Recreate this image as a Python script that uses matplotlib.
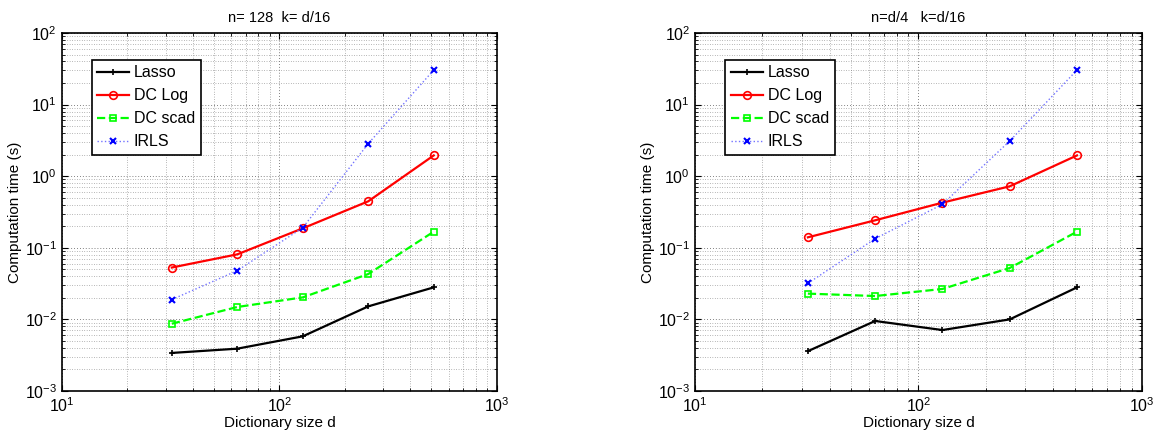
import numpy as np
import matplotlib
matplotlib.use("Agg")
import matplotlib.pyplot as plt
from matplotlib.ticker import LogLocator, NullFormatter

d = [32, 64, 128, 256, 512]

# left panel: n = 128, k = d/16
lasso_a = [0.0034, 0.0039, 0.0058, 0.0152, 0.028]
dclog_a = [0.053, 0.081, 0.187, 0.446, 1.95]
dcscad_a = [0.0087, 0.0149, 0.0203, 0.043, 0.168]
irls_a = [0.0189, 0.048, 0.191, 2.85, 30.4]

# right panel: n = d/4, k = d/16
lasso_b = [0.0036, 0.0095, 0.0071, 0.0100, 0.028]
dclog_b = [0.140, 0.242, 0.427, 0.722, 1.95]
dcscad_b = [0.0229, 0.0212, 0.0266, 0.0522, 0.168]
irls_b = [0.0319, 0.134, 0.405, 3.1, 30.4]

titles = ["n= 128  k= d/16", "n=d/4   k=d/16"]
labels = ["Lasso", "DC Log", "DC scad", "IRLS"]

plt.rcParams['font.family'] = ['Liberation Sans', 'DejaVu Sans']
plt.rcParams['mathtext.fontset'] = 'custom'
plt.rcParams['mathtext.rm'] = 'Liberation Sans'

fig = plt.figure(figsize=(11.71, 4.41), dpi=100)
ax1 = fig.add_axes([0.0529, 0.1134, 0.3715, 0.8118])
ax2 = fig.add_axes([0.5935, 0.1134, 0.3817, 0.8118])

panels = [(ax1, lasso_a, dclog_a, dcscad_a, irls_a),
          (ax2, lasso_b, dclog_b, dcscad_b, irls_b)]

for i, (ax, la, lg, sc, ir) in enumerate(panels):
    ax.plot(d, la, color='k', linestyle='-', linewidth=1.6, marker='+',
            markersize=5, markeredgewidth=1.2, label=labels[0])
    ax.plot(d, lg, color='r', linestyle='-', linewidth=1.6, marker='o',
            markersize=5.5, markerfacecolor='none', markeredgewidth=1.2, label=labels[1])
    ax.plot(d, sc, color=(0, 1, 0), linestyle='--', linewidth=1.6, marker='s',
            markersize=5, markerfacecolor='none', markeredgewidth=1.2, label=labels[2])
    ax.plot(d, ir, color=(0.45, 0.45, 1.0), linestyle=':', linewidth=1.0, marker='x',
            markersize=4, markeredgecolor='b', markeredgewidth=1.5, label=labels[3])

    ax.set_xscale('log')
    ax.set_yscale('log')
    ax.set_xlim(10, 1000)
    ax.set_ylim(1e-3, 1e2)
    ax.xaxis.set_major_locator(LogLocator(base=10, numticks=10))
    ax.yaxis.set_major_locator(LogLocator(base=10, numticks=10))
    ax.xaxis.set_minor_locator(LogLocator(base=10, subs=np.arange(2, 10), numticks=20))
    ax.yaxis.set_minor_locator(LogLocator(base=10, subs=np.arange(2, 10), numticks=20))
    ax.xaxis.set_minor_formatter(NullFormatter())
    ax.yaxis.set_minor_formatter(NullFormatter())

    ax.grid(True, which='major', linestyle=(0, (1, 2.5)), color='0.35', linewidth=0.6)
    ax.grid(True, which='minor', linestyle=(0, (1, 2.5)), color='0.45', linewidth=0.5)
    ax.tick_params(which='both', direction='in', top=True, right=True, labelsize=11.5)
    ax.tick_params(which='major', length=4)
    ax.tick_params(which='minor', length=2)
    for s in ax.spines.values():
        s.set_linewidth(1.2)

    ax.set_title(titles[i], fontsize=10.5, pad=8)
    ax.set_xlabel("Dictionary size d", fontsize=11, labelpad=1)
    ax.set_ylabel("Computation time (s)", fontsize=11, labelpad=2)

    leg = ax.legend(loc='upper left', bbox_to_anchor=(0.068, 0.925), fontsize=11.5,
                    fancybox=False, framealpha=1, edgecolor='k', handlelength=2.0,
                    handletextpad=0.3, borderpad=0.35, labelspacing=0.5,
                    borderaxespad=0)
    leg.get_frame().set_linewidth(1.2)

fig.savefig("out.png", dpi=100)
